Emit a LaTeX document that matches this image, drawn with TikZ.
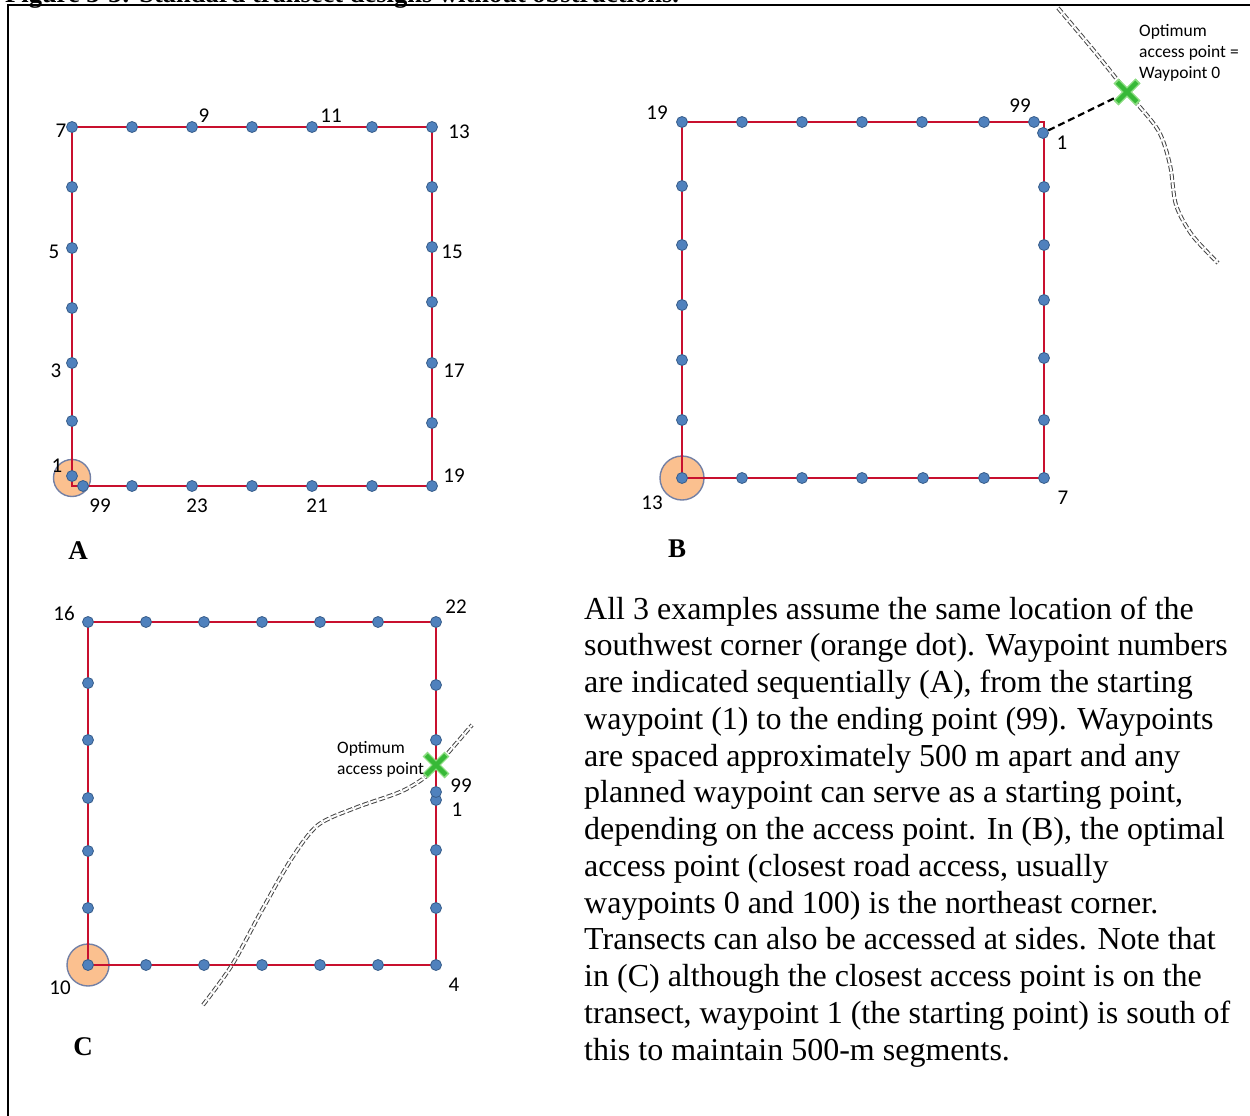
\documentclass[tikz,border=0pt]{standalone}
\usepackage{fontspec}
\setmainfont{Liberation Serif}
\newfontfamily\cali{Carlito}
\usetikzlibrary{shapes.misc}
\definecolor{tred}{RGB}{200,16,46}
\definecolor{dotblue}{RGB}{79,129,189}
\definecolor{dotedge}{RGB}{56,93,138}
\definecolor{orfill}{RGB}{251,192,143}
\definecolor{oredge}{RGB}{115,128,165}
\definecolor{xgreen}{RGB}{55,185,55}
\definecolor{xlight}{RGB}{140,220,130}
\definecolor{roadgray}{RGB}{70,70,70}
\tikzset{
  wp/.style={circle, fill=dotblue, draw=dotedge, line width=0.8pt, inner sep=0pt, minimum size=11pt},
  tline/.style={draw=tred, line width=2.2pt},
  num/.style={font=\cali\fontsize{21}{21}\selectfont, inner sep=0pt},
  small/.style={font=\cali\fontsize{17.5}{21}\selectfont, inner sep=0pt, align=left, anchor=north west},
  swc/.style={circle, fill=orfill, draw=oredge, line width=1.4pt, inner sep=0pt},
  xmkbg/.style={cross out, draw=xlight, line width=7pt, minimum size=15pt, inner sep=0pt},
  xmk/.style={cross out, draw=xgreen, line width=4.5pt, minimum size=15pt, inner sep=0pt},
  road/.style={draw=roadgray, double=white, double distance=2pt, line width=1pt, dash pattern=on 6pt off 2.5pt},
  panel/.style={font=\bfseries\fontsize{27}{27}\selectfont, inner sep=0pt, anchor=base},
  para/.style={font=\fontsize{32}{32}\selectfont, inner sep=0pt, anchor=base west},
}
\begin{document}
\begin{tikzpicture}[x=1pt,y=-1pt]
\useasboundingbox (0,0) rectangle (1250,1116);
\clip (0,0) rectangle (1250,1116);
% header (cut off at top, as in the reference)
\node[font=\bfseries\fontsize{26.5}{26.5}\selectfont, inner sep=0pt, anchor=base west] (hdr) at (5,3) {Figure 3-3: Standard transect designs without obstructions.};
% frame
\draw[line width=2pt] (8,1125) -- (8,5) -- (1260,5);

%================ Panel A
\node[swc, minimum size=37pt] (aswc) at (72,478) {};
\coordinate (aSW) at (72,486);
\coordinate (aNE) at (432,127);
\draw[tline] (aSW) rectangle (aNE);
\foreach \n/\x/\y in {1/72/476,2/72/421,3/72/363,4/72/308,5/72/248,6/72/187,7/72/127,
  8/132/127,9/192/127,10/252/127,11/312/127,12/372/127,13/432/127,
  14/432/187,15/432/247,16/432/302,17/432/363,18/432/423,19/432/486,
  20/372/486,21/312/486,22/252/486,23/192/486,24/132/486,99/83/486}
  \node[wp] (a\n) at (\x,\y) {};
\node[num] (la1) at (57,466) {1};
\node[num] (la3) at (56,371) {3};
\node[num] (la5) at (54,252) {5};
\node[num] (la7) at (61,131) {7};
\node[num] (la9) at (204,116) {9};
\node[num] (la11) at (331,116) {11};
\node[num] (la13) at (459,132) {13};
\node[num] (la15) at (452,252) {15};
\node[num] (la17) at (454,371) {17};
\node[num] (la19) at (454,476) {19};
\node[num] (la21) at (317,506) {21};
\node[num] (la23) at (197,506) {23};
\node[num] (la99) at (100,506) {99};
\node[panel] (pA) at (78,559) {A};

%================ Panel B
\draw[road] plot[smooth] coordinates {(1058,8) (1095,52) (1127,92) (1158,130) (1170,165) (1176,205) (1192,235) (1218,263)};
\node[swc, minimum size=44pt] (bswc) at (682,478) {};
\coordinate (bSW) at (682,478);
\coordinate (bNE) at (1044,122);
\draw[tline] (bSW) rectangle (bNE);
\foreach \n/\x/\y in {1/1043/133,2/1044/187,3/1044/245,4/1044/300,5/1044/358,6/1044/420,7/1044/478,
  8/984/478,9/923/478,10/862/478,11/802/478,12/742/478,13/682/478,
  14/682/420,15/682/360,16/682/305,17/682/245,18/682/186,19/682/122,
  20/742/122,21/802/122,22/862/122,23/922/122,24/984/122,99/1034/122}
  \node[wp] (b\n) at (\x,\y) {};
\node[xmkbg] (bx) at (1127,92) {};
\draw[line width=2.2pt, dash pattern=on 7pt off 4pt] (b1) -- (bx);
\node[xmkbg] at (bx) {};
\node[xmk] at (bx) {};
\node[small] (bopt) at (1139,24) {Optimum\\access point =\\Waypoint 0};
\node[num] (lb19) at (657,113) {19};
\node[num] (lb99) at (1020,106) {99};
\node[num] (lb1) at (1062,143) {1};
\node[num] (lb13) at (652,503) {13};
\node[num] (lb7) at (1063,498) {7};
\node[panel] (pB) at (677,557) {B};

%================ Panel C
\node[swc, minimum size=42pt] (cswc) at (88,965) {};
\coordinate (cSW) at (88,965);
\coordinate (cNE) at (436,622);
\draw[tline] (cSW) rectangle (cNE);
\draw[road] plot[smooth] coordinates {(203,1005) (232,965) (262,910) (292,858) (318,825) (355,808) (400,792) (424,778) (440,762) (472,725)};
\foreach \n/\x/\y in {1/436/800,2/436/850,3/436/908,4/436/965,
  5/378/965,6/320/965,7/262/965,8/204/965,9/146/965,10/88/965,
  11/88/908,12/88/851,13/88/798,14/88/740,15/88/683,16/88/622,
  17/146/622,18/204/622,19/262/622,20/320/622,21/378/622,22/436/622,
  23/436/685,24/436/740,99/436/792}
  \node[wp] (c\n) at (\x,\y) {};
\node[xmkbg] (cx) at (436,765) {};
\node[xmk] at (cx) {};
\node[small] (copt) at (337,741) {Optimum\\access point};
\node[num] (lc16) at (64,613) {16};
\node[num] (lc22) at (456,607) {22};
\node[num] (lc99) at (461,786) {99};
\node[num] (lc1) at (457,810) {1};
\node[num] (lc10) at (60,988) {10};
\node[num] (lc4) at (454,985) {4};
\node[panel] (pC) at (83,1055) {C};

%================ Paragraph
\foreach \i/\t in {
  0/{All 3 examples assume the same location of the},
  1/{southwest corner (orange dot). Waypoint numbers},
  2/{are indicated sequentially (A), from the starting},
  3/{waypoint (1) to the ending point (99). Waypoints},
  4/{are spaced approximately 500 m apart and any},
  5/{planned waypoint can serve as a starting point,},
  6/{depending on the access point. In (B), the optimal},
  7/{access point (closest road access, usually},
  8/{waypoints 0 and 100) is the northeast corner.},
  9/{Transects can also be accessed at sides. Note that},
  10/{in (C) although the closest access point is on the},
  11/{transect, waypoint 1 (the starting point) is south of},
  12/{this to maintain 500-m segments.}}
  \node[para] (p\i) at (584,{619+36.75*\i}) {\t};
\end{tikzpicture}
\end{document}
